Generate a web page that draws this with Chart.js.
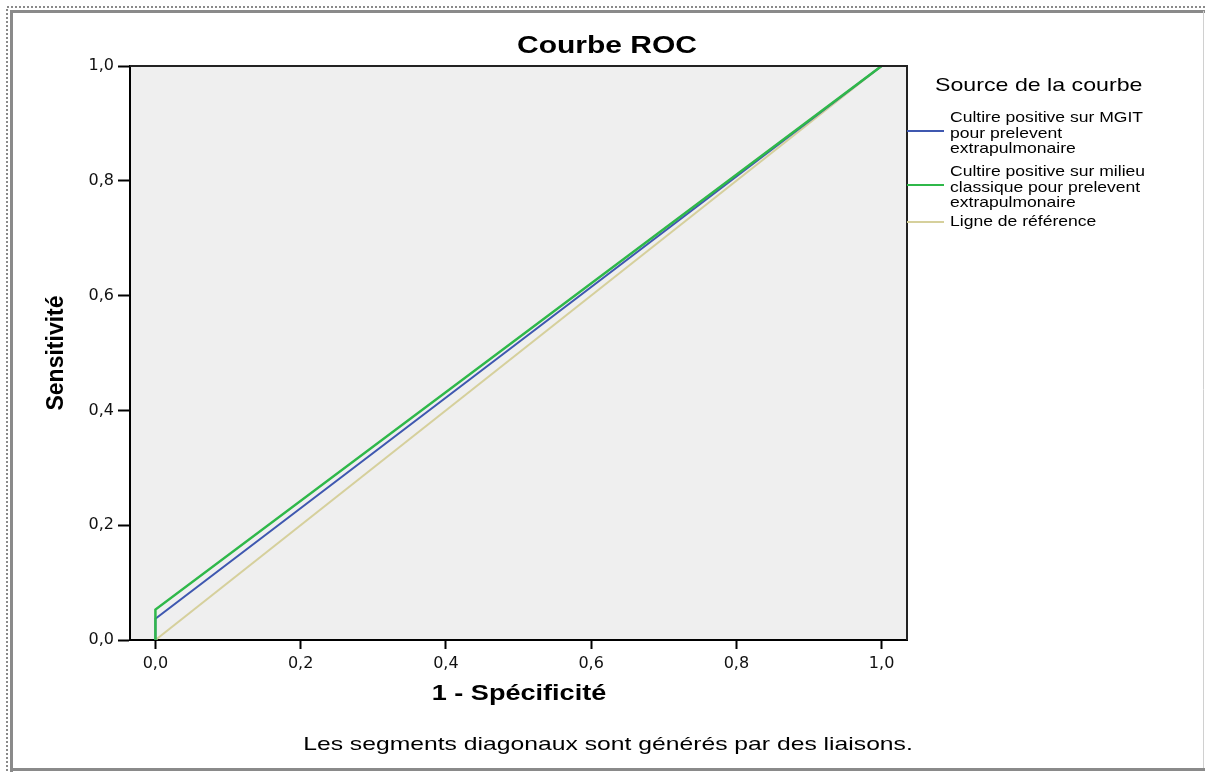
<!DOCTYPE html>
<html>
<head>
<meta charset="utf-8">
<script src="https://cdn.jsdelivr.net/npm/chart.js@4"></script>
<style>
  html, body { margin: 0; padding: 0; background: #fff; }
  canvas { display: block; }
</style>
</head>
<body>
<canvas id="rocChart" width="1205" height="772"></canvas>
<script>
// data
var mgitX = [0, 0, 1];
var mgitY = [0, 0.037, 1];
var classiqueX = [0, 0, 1];
var classiqueY = [0, 0.053, 1];
var refX = [0, 1];
var refY = [0, 1];

var tickValues = [0, 0.2, 0.4, 0.6, 0.8, 1.0];
var tickLabels = ['0,0', '0,2', '0,4', '0,6', '0,8', '1,0'];

var seriesNames = [
    ['Cultire positive sur MGIT', 'pour prelevent', 'extrapulmonaire'],
    ['Cultire positive sur milieu', 'classique pour prelevent', 'extrapulmonaire'],
    ['Ligne de référence']
];
var seriesColors = ['#3f58b0', '#2fb84a', '#d6d09c'];

function toPoints(xs, ys) {
    return xs.map(function(x, i) { return { x: x, y: ys[i] }; });
}

var FONT = "'Liberation Sans', Arial, sans-serif";
var NARROW = "'Liberation Sans Narrow', 'Liberation Sans', Arial, sans-serif";
var TICKFONT = "'DejaVu Sans', 'Liberation Sans', sans-serif";

// the reference text looks stretched sideways, so draw it scaled in x
function wideText(c, text, x, y, sx, align) {
    c.save();
    c.translate(x, y);
    c.scale(sx, 1);
    c.textAlign = align || 'center';
    c.fillText(text, 0, 0);
    c.restore();
}

// frame, plot border, title, legend and note
var decor = {
    id: 'decor',
    beforeDraw: function(chart) {
        var c = chart.ctx, a = chart.chartArea;
        c.save();
        c.fillStyle = '#efefef';
        c.fillRect(a.left, a.top, a.right - a.left, a.bottom - a.top);
        c.restore();
    },
    afterDraw: function(chart) {
        var c = chart.ctx, a = chart.chartArea;
        c.save();
        // outer dotted frame
        c.strokeStyle = '#8a8a8a';
        c.lineWidth = 2;
        c.setLineDash([2, 2]);
        c.beginPath();
        c.moveTo(7, 771); c.lineTo(7, 7); c.lineTo(1205, 7);
        c.stroke();
        c.setLineDash([]);
        c.lineWidth = 3;
        c.beginPath();
        c.moveTo(11.5, 772); c.lineTo(11.5, 11.5); c.lineTo(1205, 11.5);
        c.stroke();
        c.beginPath();
        c.moveTo(11.5, 769.5); c.lineTo(1205, 769.5);
        c.stroke();
        c.strokeStyle = '#d0d0d0';
        c.lineWidth = 1;
        c.beginPath();
        c.moveTo(1203.5, 11); c.lineTo(1203.5, 768);
        c.stroke();

        // plot border top/right
        c.strokeStyle = '#222';
        c.lineWidth = 2;
        c.beginPath();
        c.moveTo(a.left, a.top); c.lineTo(a.right, a.top); c.lineTo(a.right, a.bottom);
        c.stroke();

        c.fillStyle = '#000';
        c.textBaseline = 'middle';
        c.font = 'bold 24px ' + FONT;
        wideText(c, 'Courbe ROC', 607, 46, 1.25);

        c.font = 'bold 22px ' + FONT;
        wideText(c, '1 - Spécificité', 519, 694, 1.23);

        c.save();
        c.translate(57, 353);
        c.rotate(-Math.PI / 2);
        c.textAlign = 'center';
        c.font = 'bold 23px ' + NARROW;
        c.fillText('Sensitivité', 0, 0);
        c.restore();

        c.font = '19px ' + FONT;
        wideText(c, 'Les segments diagonaux sont générés par des liaisons.', 608, 745, 1.3);

        // legend
        c.font = '19px ' + FONT;
        wideText(c, 'Source de la courbe', 935, 86, 1.22, 'left');
        c.font = '15px ' + FONT;
        var lineYs = [131, 185, 222];
        var textTops = [118, 172, 222];
        seriesNames.forEach(function(lines, i) {
            c.strokeStyle = seriesColors[i];
            c.lineWidth = 2;
            c.beginPath();
            c.moveTo(907, lineYs[i]); c.lineTo(944, lineYs[i]);
            c.stroke();
            lines.forEach(function(t, j) {
                wideText(c, t, 950, textTops[i] + j * 15.5, 1.17, 'left');
            });
        });
        c.restore();
    }
};

var ctx = document.getElementById('rocChart').getContext('2d');
// chart.js paints dataset 0 last, so green goes first to sit on top
var chart = new Chart(ctx, {
    type: 'scatter',
    data: {
        datasets: [{
            label: seriesNames[1].join(' '),
            data: toPoints(classiqueX, classiqueY),
            borderColor: seriesColors[1],
            borderWidth: 2.5,
            showLine: true,
            pointRadius: 0
        }, {
            label: seriesNames[0].join(' '),
            data: toPoints(mgitX, mgitY),
            borderColor: seriesColors[0],
            borderWidth: 2,
            showLine: true,
            pointRadius: 0
        }, {
            label: seriesNames[2].join(' '),
            data: toPoints(refX, refY),
            borderColor: seriesColors[2],
            borderWidth: 2,
            showLine: true,
            pointRadius: 0
        }]
    },
    options: {
        responsive: false,
        animation: false,
        layout: { padding: { left: 0, top: 66, right: 298, bottom: 0 } },
        plugins: {
            legend: { display: false },
            tooltip: { enabled: false }
        },
        scales: {
            x: {
                type: 'linear',
                min: -0.035,
                max: 1.035,
                afterBuildTicks: function(scale) {
                    scale.ticks = tickValues.map(function(v) { return { value: v }; });
                },
                afterFit: function(scale) { scale.height = 132; },
                grid: { drawOnChartArea: false, color: '#000', tickLength: 9, tickWidth: 2 },
                border: { color: '#000', width: 2 },
                ticks: {
                    padding: 5,
                    color: '#111',
                    font: { family: TICKFONT, size: 16 },
                    maxRotation: 0,
                    callback: function(v, i) { return tickLabels[i]; }
                }
            },
            y: {
                type: 'linear',
                min: 0,
                max: 1,
                afterBuildTicks: function(scale) {
                    scale.ticks = tickValues.map(function(v) { return { value: v }; });
                },
                afterFit: function(scale) { scale.width = 130; },
                grid: { drawOnChartArea: false, color: '#000', tickLength: 12, tickWidth: 2 },
                border: { color: '#000', width: 2 },
                ticks: {
                    padding: 4,
                    color: '#111',
                    font: { family: TICKFONT, size: 16 },
                    callback: function(v, i) { return tickLabels[i]; }
                }
            }
        }
    },
    plugins: [decor]
});
</script>
</body>
</html>
